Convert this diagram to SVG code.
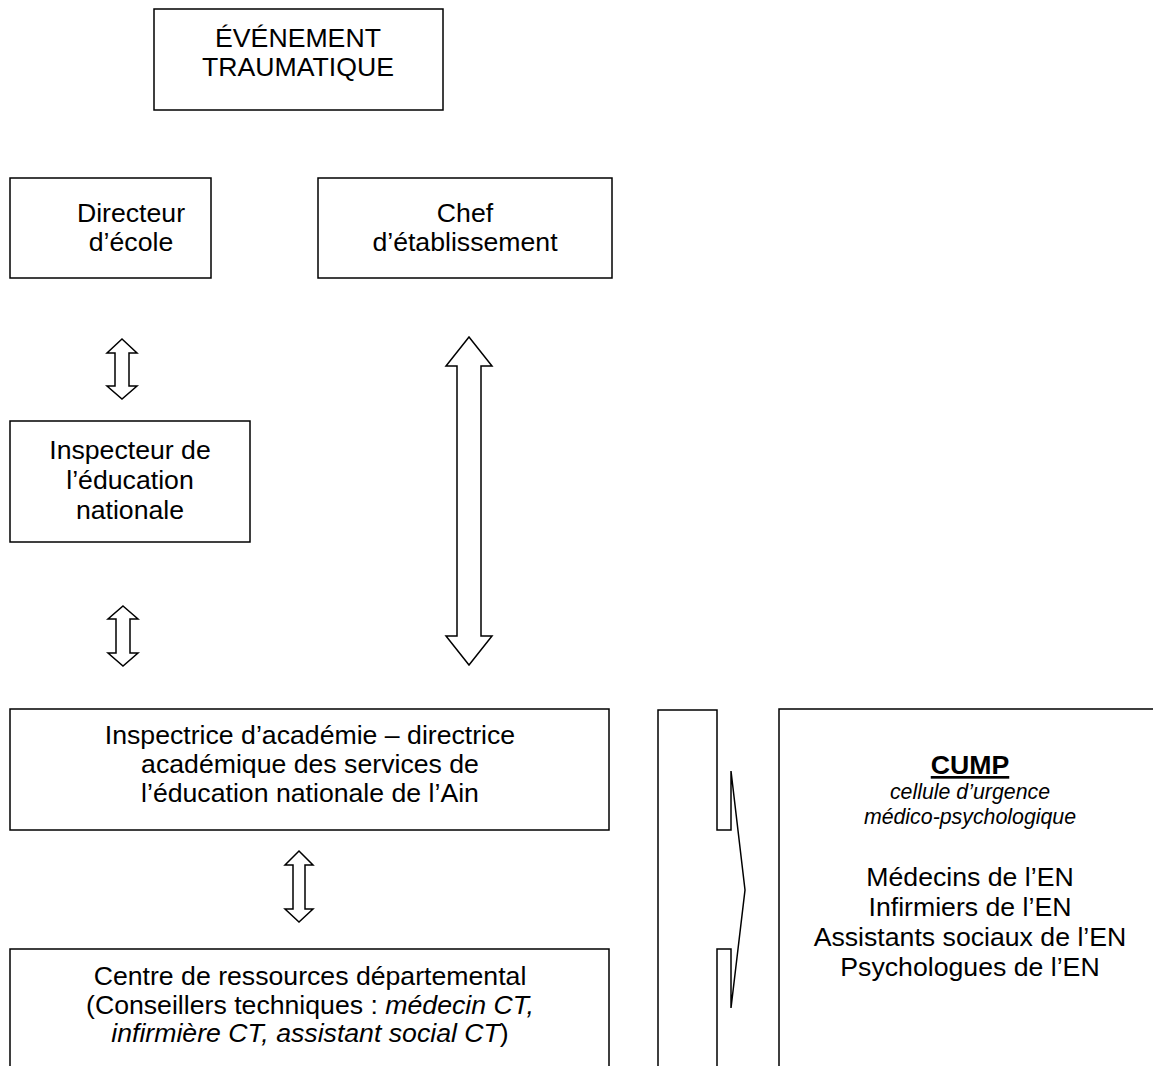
<svg xmlns="http://www.w3.org/2000/svg" width="1153" height="1066" viewBox="0 0 1153 1066">
<style>
.box{fill:#fff;stroke:#000;stroke-width:1.5}
.arr{fill:#fff;stroke:#000;stroke-width:1.5;stroke-linejoin:miter}
text{font-family:"Liberation Sans",Arial,sans-serif;font-size:26.67px;fill:#000;text-anchor:middle}
.it{font-style:italic;font-size:21.33px}
.b{font-weight:bold;text-decoration:underline}
</style>
<rect width="1153" height="1066" fill="#fff"/>
<g id="connectors">
<path class="arr" d="M122,339 L137,353 L129,353 L129,386 L137,386 L122,399 L107,386 L115,386 L115,353 L107,353 Z"/>
<path class="arr" d="M123,606 L138,619 L130,619 L130,653 L138,653 L123,666 L108,653 L116,653 L116,619 L108,619 Z"/>
<path class="arr" d="M299,851 L313,865 L305,865 L305,909 L313,909 L299,922 L285,909 L293,909 L293,865 L285,865 Z"/>
<path class="arr" d="M469,337 L492,366 L481,366 L481,636 L492,636 L469,665 L446,636 L457,636 L457,366 L446,366 Z"/>
<path class="arr" fill="none" d="M658,1067 L658,710 L717,710 L717,830 L731,830 L731,771 L745,890 L731,1008 L731,949 L717,949 L717,1067"/>
</g>
<g id="evenement">
<rect class="box" x="154" y="9" width="289" height="101"/>
<text x="298" y="47">ÉVÉNEMENT</text>
<text x="298" y="76">TRAUMATIQUE</text>
</g>
<g id="directeur">
<rect class="box" x="10" y="178" width="201" height="100"/>
<text x="131" y="222">Directeur</text>
<text x="131" y="251">d’école</text>
</g>
<g id="chef">
<rect class="box" x="318" y="178" width="294" height="100"/>
<text x="465" y="222">Chef</text>
<text x="465" y="251">d’établissement</text>
</g>
<g id="inspecteur">
<rect class="box" x="10" y="421" width="240" height="121"/>
<text x="130" y="459">Inspecteur de</text>
<text x="130" y="489">l’éducation</text>
<text x="130" y="519">nationale</text>
</g>
<g id="inspectrice">
<rect class="box" x="10" y="709" width="599" height="121"/>
<text x="310" y="744">Inspectrice d’académie – directrice</text>
<text x="310" y="773">académique des services de</text>
<text x="310" y="802">l’éducation nationale de l’Ain</text>
</g>
<g id="centre">
<path class="box" d="M10,1067 L10,949 L609,949 L609,1067"/>
<text x="310" y="985">Centre de ressources départemental</text>
<text x="310" y="1014">(Conseillers techniques : <tspan font-style="italic">médecin CT,</tspan></text>
<text x="310" y="1042"><tspan font-style="italic">infirmière CT, assistant social CT</tspan>)</text>
</g>
<g id="cump">
<path class="box" d="M779,1067 L779,709 L1154,709"/>
<text class="b" x="970" y="774">CUMP</text>
<text class="it" x="970" y="799">cellule d’urgence</text>
<text class="it" x="970" y="824">médico-psychologique</text>
<text x="970" y="886">Médecins de l’EN</text>
<text x="970" y="916">Infirmiers de l’EN</text>
<text x="970" y="946">Assistants sociaux de l’EN</text>
<text x="970" y="976">Psychologues de l’EN</text>
</g>
</svg>
